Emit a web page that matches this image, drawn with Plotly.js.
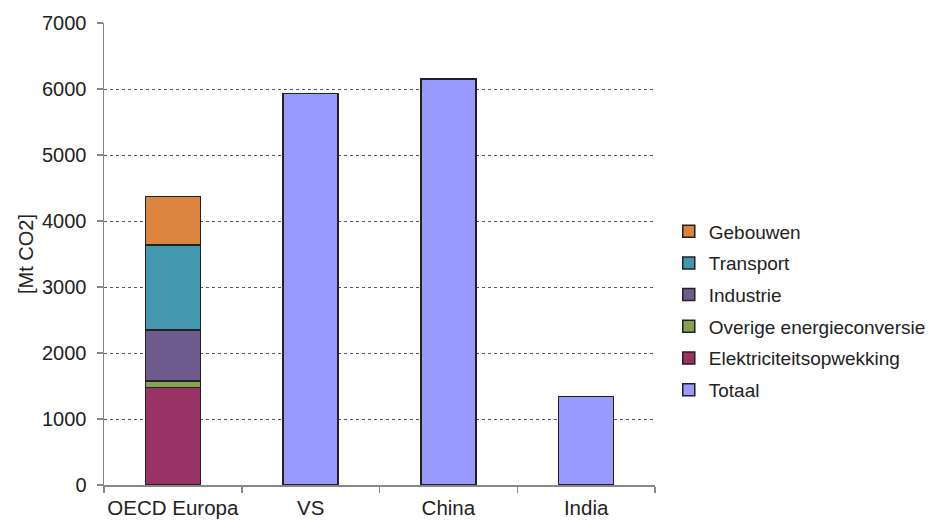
<!DOCTYPE html>
<html>
<head>
<meta charset="utf-8">
<script src="https://cdn.plot.ly/plotly-3.0.1.min.js"></script>
<style>html,body{margin:0;padding:0;background:#fff;}</style>
</head>
<body>
<div id="chart" style="width:935px;height:523px;"></div>
<script>
const categories = ["OECD Europa", "VS", "China", "India"];
const europeCategory = ["OECD Europa"];
const elektriciteit = [1480];
const overige = [95];
const industrie = [775];
const transport = [1290];
const gebouwen = [730];
const totaalCategories = ["VS", "China", "India"];
const totaal = [5930, 6150, 1340];
const yTicks = [0, 1000, 2000, 3000, 4000, 5000, 6000, 7000];
const gridTicks = [1000, 2000, 3000, 4000, 5000, 6000];

const lineStyle = {color: "#222222", width: 1.5};
function stackTrace(name, xs, ys, color, group, rank) {
  return {type: "bar", name: name, x: xs, y: ys, legendgroup: group, legendrank: rank,
    marker: {color: color, line: lineStyle}, hoverinfo: "skip"};
}
const traces = [
  stackTrace("Totaal", totaalCategories, totaal, "#9999FF", "g0", 6),
  stackTrace("Elektriciteitsopwekking", europeCategory, elektriciteit, "#993366", "g1", 5),
  stackTrace("Overige energieconversie", europeCategory, overige, "#86A24E", "g2", 4),
  stackTrace("Industrie", europeCategory, industrie, "#6F5A8E", "g3", 3),
  stackTrace("Transport", europeCategory, transport, "#4398AF", "g4", 2),
  stackTrace("Gebouwen", europeCategory, gebouwen, "#DA843F", "g5", 1),
  {type: "scatter", mode: "markers", x: categories, y: [null, null, null, null],
   yaxis: "y2", showlegend: false, hoverinfo: "skip"}
];

const layout = {
  width: 935, height: 523,
  margin: {l: 104, r: 280, t: 23, b: 38, autoexpand: false},
  paper_bgcolor: "#ffffff", plot_bgcolor: "rgba(0,0,0,0)",
  barmode: "stack", bargap: 0.6,
  font: {family: "Liberation Sans, Arial, sans-serif", color: "#222222"},
  xaxis: {
    type: "category", categoryorder: "array", categoryarray: categories,
    showline: true, linecolor: "#888888", linewidth: 1.5, tickangle: 0,
    ticks: "outside", tickson: "boundaries", ticklen: 6, tickcolor: "#888888", tickwidth: 1.5,
    ticklabelstandoff: 4,
    tickfont: {size: 20.5, color: "#222222"}, showgrid: false
  },
  yaxis: {
    range: [0, 7000], tickvals: yTicks, showgrid: false, zeroline: false,
    showline: true, linecolor: "#888888", linewidth: 1.5,
    ticks: "outside", ticklen: 6, tickcolor: "#888888", tickwidth: 1.5,
    ticklabelstandoff: 6,
    tickfont: {size: 20, color: "#222222"},
    title: {text: "[Mt CO2]", font: {size: 20, color: "#222222"}, standoff: 3}
  },
  yaxis2: {
    range: [0, 7000], overlaying: "y", tickvals: gridTicks, showticklabels: false,
    showgrid: true, gridcolor: "#555555", gridwidth: 1, griddash: "dot",
    zeroline: false, showline: false, ticks: ""
  },
  legend: {
    x: 1.025, xanchor: "left", y: 0.377, yanchor: "middle",
    traceorder: "grouped", tracegroupgap: 4,
    font: {size: 19, color: "#222222"}, itemwidth: 30
  },
  showlegend: true
};

Plotly.newPlot("chart", traces, layout, {staticPlot: true});
</script>
</body>
</html>
